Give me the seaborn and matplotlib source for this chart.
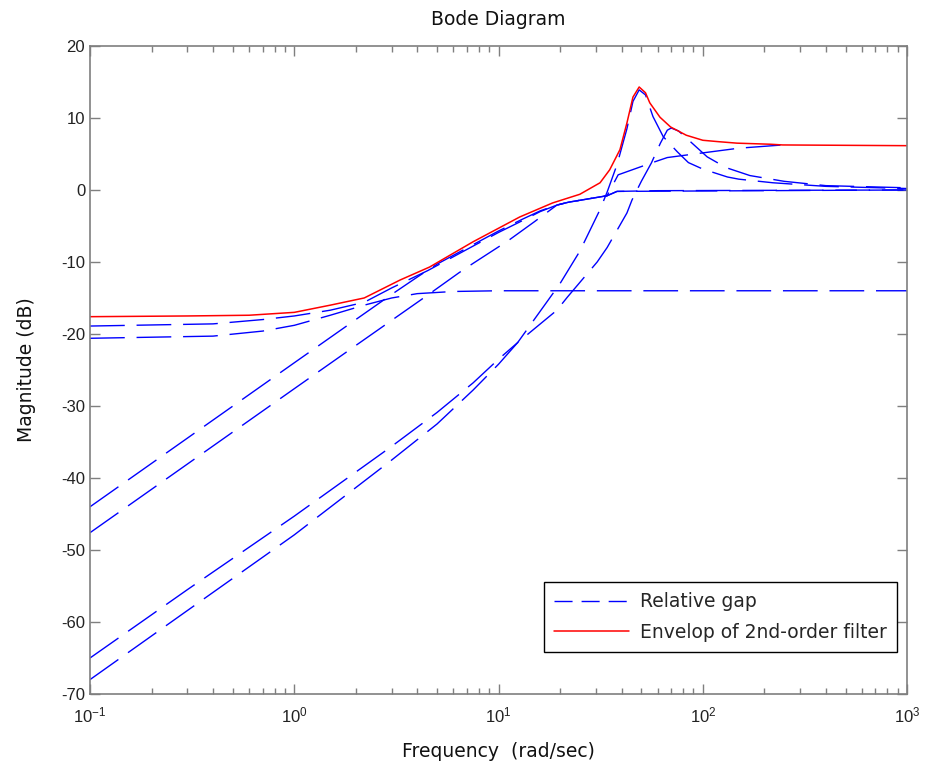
import numpy as np
import pandas as pd
import matplotlib
matplotlib.use('Agg')
import matplotlib.pyplot as plt
from matplotlib.lines import Line2D
from matplotlib.ticker import LogLocator, MultipleLocator
import seaborn as sns

sns.set_style('white')
plt.rcParams['font.family'] = ['Liberation Sans', 'DejaVu Sans']
plt.rcParams['axes.unicode_minus'] = False

# ---------------- data (rad/sec, dB) ----------------
a1_f = [0.1, 0.4, 0.7, 1.0, 1.5, 2.2, 3.0, 4.5, 7.5, 10, 13, 16, 19.3, 22, 34, 38.5, 56, 67, 97, 150, 246]
a1_db = [-18.9, -18.6, -18.0, -17.5, -16.7, -15.6, -13.6, -11.2, -7.8, -5.9, -4.3, -3.0, -2.1, -1.7, -0.8, 2.1, 3.75, 4.5, 5.1, 5.8, 6.25]

a2_f = [0.1, 0.4, 0.7, 1.0, 1.5, 2.2, 3.0, 4.0, 6.0, 10, 1000]
a2_db = [-20.6, -20.3, -19.6, -18.8, -17.4, -16.0, -15.0, -14.4, -14.1, -14.0, -14.0]

b1_f = [0.1, 1.0, 2.0, 3.0, 4.0, 5.0, 7.5, 10, 13, 16, 19.3, 22, 34, 38, 60, 1000]
b1_db = [-44.0, -24.0, -18.0, -14.5, -12.1, -10.3, -7.6, -5.7, -4.1, -2.9, -2.1, -1.7, -0.8, -0.2, -0.1, 0.0]

b2_f = [0.1, 1.0, 2.0, 3.0, 4.5, 6.4, 7.5, 11.2, 15, 19.3, 22, 34, 38, 1000]
b2_db = [-47.6, -27.6, -21.6, -18.1, -14.6, -11.5, -10.2, -7.0, -4.4, -2.1, -1.7, -0.8, -0.2, 0.0]

d1_f = [0.1, 0.3, 1.0, 3.0, 5.0, 7.5, 10, 12.4, 16.6, 20, 25, 31.3, 34, 38, 42.5, 45.5, 48.8, 52.4,
        57, 64, 75, 85, 100, 132, 150, 220, 400, 1000]
d1_db = [-65.0, -55.5, -45.3, -35.6, -30.9, -26.8, -23.5, -21.2, -16.2, -13.0, -8.5, -2.8, -0.3, 3.5, 8.5, 12.3, 13.9, 13.2,
         10.2, 7.4, 5.3, 3.8, 2.9, 1.8, 1.5, 1.0, 0.5, 0.2]

d2_f = [0.1, 0.3, 1.0, 3.0, 5.0, 7.5, 10, 12.4, 19.3, 21.7, 30.4, 34, 42.5, 45, 50, 56, 62, 67, 70,
        76, 87, 105, 130, 170, 250, 400, 1000]
d2_db = [-68.0, -58.4, -47.9, -37.5, -32.5, -27.8, -24.2, -21.2, -16.7, -14.9, -10.0, -8.0, -3.2, -1.4, 1.2, 3.75, 6.5, 8.3, 8.6,
         8.2, 6.7, 4.6, 3.1, 2.0, 1.2, 0.6, 0.3]

env_f = [0.1, 0.3, 0.6, 1.0, 1.5, 2.2, 3.3, 4.6, 7.5, 12.7, 18.4, 25, 31.4, 35, 39.3, 42.5, 45.5, 48.8,
         52.4, 55, 61.7, 69.5, 83, 100, 120, 147, 214, 246, 1000]
env_db = [-17.6, -17.5, -17.4, -17.0, -16.0, -15.0, -12.5, -10.7, -7.2, -3.75, -1.8, -0.6, 1.0, 2.8, 5.6, 9.3, 12.9, 14.3,
          13.5, 12.1, 10.1, 8.75, 7.6, 6.9, 6.7, 6.5, 6.35, 6.25, 6.15]

# ---------------- long table for the blue curves ----------------
blue = [('A1', a1_f, a1_db), ('A2', a2_f, a2_db), ('B1', b1_f, b1_db),
        ('B2', b2_f, b2_db), ('D1', d1_f, d1_db), ('D2', d2_f, d2_db)]
df = pd.concat([pd.DataFrame({'curve': n, 'freq': f, 'mag': m}) for n, f, m in blue],
               ignore_index=True)
df_env = pd.DataFrame({'freq': env_f, 'mag': env_db})

fig = plt.figure(figsize=(9.36, 7.71), dpi=100)
ax = fig.add_axes([0.0962, 0.0999, 0.8729, 0.8405])
ax.set_xscale('log')

sns.lineplot(data=df, x='freq', y='mag', units='curve', estimator=None,
             color='#0000ff', lw=1.0, ax=ax, legend=False)
for ln in ax.lines:
    ln.set_dashes((25, 8.5))

sns.lineplot(data=df_env, x='freq', y='mag', color='#ff0000', lw=1.1,
             ax=ax, legend=False)

ax.set_xlim(0.1, 1000)
ax.set_ylim(-70, 20)
ax.yaxis.set_major_locator(MultipleLocator(10))
ax.xaxis.set_major_locator(LogLocator(base=10, numticks=10))
ax.xaxis.set_minor_locator(LogLocator(base=10, subs=np.arange(2, 10), numticks=100))

axc = '#7f7f7f'
for s in ax.spines.values():
    s.set_color(axc)
    s.set_linewidth(1.2)
ax.tick_params(which='both', direction='in', top=True, right=True,
               bottom=True, left=True,
               color=axc, labelcolor='#222222', labelsize=12)
ax.tick_params(which='major', length=7, width=1.0)
ax.tick_params(which='minor', length=4.5, width=1.0)
ax.tick_params(axis='x', pad=8)

txt = dict(family=['DejaVu Sans'], fontsize=13.5, color='#111111')
ax.set_title('Bode Diagram', pad=15, **txt)
ax.set_xlabel('Frequency  (rad/sec)', labelpad=12, **txt)
ax.set_ylabel('Magnitude (dB)', labelpad=18, **txt)

handles = [Line2D([0], [0], color='#0000ff', lw=1.0, dashes=(13, 6.5)),
           Line2D([0], [0], color='#ff0000', lw=1.1)]
leg = ax.legend(handles, ['Relative gap', 'Envelop of 2nd-order filter'],
                loc='lower right', bbox_to_anchor=(0.988, 0.065),
                prop={'family': 'DejaVu Sans', 'size': 13.5},
                fancybox=False, framealpha=1, borderaxespad=0,
                handlelength=4.0, handletextpad=0.6, borderpad=0.55,
                labelspacing=0.6)
leg.get_frame().set_edgecolor('black')
leg.get_frame().set_linewidth(1.0)

fig.savefig('out.png', dpi=100)
